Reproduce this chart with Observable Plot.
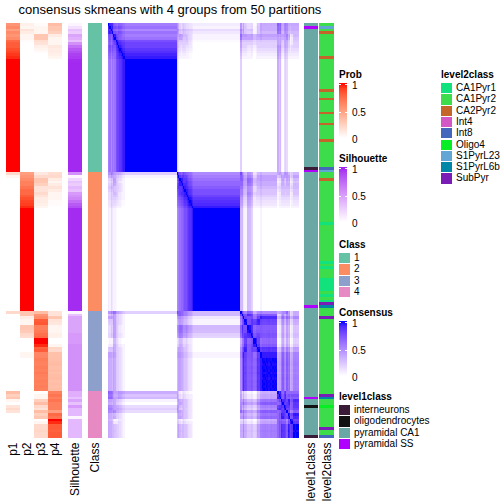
<!DOCTYPE html>
<html><head><meta charset="utf-8">
<script src="https://cdn.jsdelivr.net/npm/d3@7"></script>
<script src="https://cdn.jsdelivr.net/npm/@observablehq/plot@0.6"></script>
<style>
body{margin:0;background:#fff;}
#chart{position:relative;width:504px;height:504px;overflow:hidden;font-family:"Liberation Sans",Arial,sans-serif;color:#000;}
#chart svg{overflow:visible;}
.lt{position:absolute;font-size:10px;font-weight:bold;white-space:nowrap;line-height:12px;}
.ll{position:absolute;font-size:10px;white-space:nowrap;line-height:12px;}
</style></head><body><div id="chart"></div>
<script>
// ---------- data (one entry per sample, 150 samples, in plotted order) ----------
const probNames = ["p1","p2","p3","p4"];
const p1 = [
 .55,.60,.50,.60,.55,.60,.75,.80,.80,.85,
 .88,.92,.95,1,1,1,1,1,1,1,
 1,1,1,1,1,1,1,1,1,1,
 1,1,1,1,1,1,1,1,1,1,
 1,1,1,1,1,1,1,1,1,1,
 1,1,1,1,.20,.05,0,0,0,0,
 0,0,0,0,0,0,0,0,0,0,
 0,0,0,0,0,0,0,0,0,0,
 0,0,0,0,0,0,0,0,0,0,
 0,0,0,0,0,0,0,0,0,0,
 0,0,0,0,.20,0,0,0,0,0,
 0,0,0,0,0,0,0,0,0,0,
 0,0,0,0,0,0,0,0,0,0,
 0,0,0,.35,.25,.30,.05,0,.15,.20,
 .15,0,0,0,0,0,0,0,0,0];
const p2 = [
 .08,.05,.15,.10,.05,.05,.02,0,0,0,
 0,0,0,0,0,0,0,0,0,0,
 0,0,0,0,0,0,0,0,0,0,
 0,0,0,0,0,0,0,0,0,0,
 0,0,0,0,0,0,0,0,0,0,
 0,0,0,0,.50,.55,.60,.65,.65,.70,
 .75,.75,.80,.85,.88,.90,.95,1,1,1,
 1,1,1,1,1,1,1,1,1,1,
 1,1,1,1,1,1,1,1,1,1,
 1,1,1,1,1,1,1,1,1,1,
 1,1,1,1,.30,.30,.10,.05,.05,.30,
 .30,.28,.20,.18,0,0,0,0,0,.05,
 .05,0,0,0,0,0,0,0,0,0,
 0,0,0,0,0,0,0,0,0,0,
 0,0,0,0,0,0,0,0,0,0];
const p3 = [
 .02,.05,.05,.05,.30,.30,.18,.15,.08,.05,
 .02,0,0,0,0,0,0,0,0,0,
 0,0,0,0,0,0,0,0,0,0,
 0,0,0,0,0,0,0,0,0,0,
 0,0,0,0,0,0,0,0,0,0,
 0,0,0,0,.12,.20,.30,.30,.25,.15,
 .15,.20,.15,.10,.10,.08,.05,0,0,0,
 0,0,0,0,0,0,0,0,0,0,
 0,0,0,0,0,0,0,0,0,0,
 0,0,0,0,0,0,0,0,0,0,
 0,0,0,0,.35,.55,.60,.80,.82,.65,
 .65,.67,.72,.75,1,1,.95,.78,.80,.62,
 .62,.66,.65,.64,.66,.65,.67,.65,.64,.66,
 .65,.66,.65,0,.05,.05,.25,.35,.20,.15,
 .35,.25,.30,0,.05,.20,.20,.22,.20,.20];
const p4 = [
 .35,.30,.30,.25,.10,.05,.05,.05,.12,.10,
 .10,.08,.05,0,0,0,0,0,0,0,
 0,0,0,0,0,0,0,0,0,0,
 0,0,0,0,0,0,0,0,0,0,
 0,0,0,0,0,0,0,0,0,0,
 0,0,0,0,.18,.20,.10,.05,.10,.15,
 .10,.05,.05,.05,.02,.02,0,0,0,0,
 0,0,0,0,0,0,0,0,0,0,
 0,0,0,0,0,0,0,0,0,0,
 0,0,0,0,0,0,0,0,0,0,
 0,0,0,0,.15,.15,.30,.15,.13,.05,
 .05,.05,.08,.07,0,0,.05,.22,.20,.33,
 .33,.34,.35,.36,.34,.35,.33,.35,.36,.34,
 .35,.34,.35,.65,.70,.65,.70,.65,.65,.65,
 .50,.75,.70,1,.95,.80,.80,.78,.80,.80];
const silhouette = [
 .05,.15,.30,.25,.45,.40,.30,.55,.70,.80,
 .85,.90,.92,.97,.98,.98,.98,.98,.98,.98,
 .98,.98,.98,.98,.98,.98,.98,.98,.98,.98,
 .98,.98,.98,.98,.98,.98,.98,.98,.98,.98,
 .98,.98,.98,.98,.98,.98,.98,.98,.98,.98,
 .98,.98,.98,.98,.55,.05,.20,.30,.25,.35,
 .30,.50,.55,.60,.70,.80,.85,.97,.97,.97,
 .97,.97,.97,.97,.97,.97,.97,.97,.97,.97,
 .97,.97,.97,.97,.97,.97,.97,.97,.97,.97,
 .97,.97,.97,.97,.97,.97,.97,.97,.97,.97,
 .97,.97,.97,.97,.05,.30,.45,.45,.45,.45,
 .45,.45,.50,.50,.50,.50,.55,.55,.55,.55,
 .55,.55,.55,.55,.55,.55,.55,.55,.55,.55,
 .55,.55,.55,.40,.40,.30,.45,.30,.50,.35,
 .35,.35,.05,.35,.35,.35,.35,.35,.35,.35];
const classNames = ["1","2","3","4"];
const classSizes = [54, 50, 29, 17];
const classColors = ["#66C2A5","#FC8D62","#8DA0CB","#E78AC3"];

const level1Names = ["interneurons","oligodendrocytes","pyramidal CA1","pyramidal SS"];
const level1Colors = ["#3A1C38","#121212","#6AA8A6","#B000FF"];
const level1Default = "pyramidal CA1";
const level1Marks = [[1,"pyramidal SS"],[52,"interneurons"],[53,"pyramidal SS"],[102,"pyramidal SS"],
 [135,"pyramidal SS"],[138,"oligodendrocytes"],[149,"interneurons"]];

const level2Names = ["CA1Pyr1","CA1Pyr2","CA2Pyr2","Int4","Int8","Oligo4","S1PyrL23","S1PyrL6b","SubPyr"];
const level2Colors = ["#12E27C","#3DDC4A","#C4652A","#D357C4","#4466BB","#08EE24","#62A6D6","#0087A8","#7A1CB6"];
const level2Default = "CA1Pyr2";
const level2Marks = [[1,"S1PyrL23"],[3,"CA2Pyr2"],[12,"CA2Pyr2"],[24,"CA2Pyr2"],[27,"CA2Pyr2"],[32,"CA2Pyr2"],
 [36,"CA2Pyr2"],[42,"CA2Pyr2"],[52,"Int8"],[53,"S1PyrL23"],[56,"CA2Pyr2"],[72,"CA1Pyr1"],[86,"CA1Pyr1"],
 [88,"CA1Pyr1"],[92,"CA1Pyr1"],[93,"CA1Pyr1"],[94,"CA1Pyr1"],[95,"CA1Pyr1"],[96,"CA1Pyr1"],[98,"CA1Pyr1"],
 [100,"CA1Pyr1"],[101,"SubPyr"],[102,"S1PyrL6b"],[106,"SubPyr"],[134,"SubPyr"],[135,"S1PyrL6b"],
 [138,"Oligo4"],[146,"SubPyr"],[149,"Int8"]];

const titleText = "consensus skmeans with 4 groups from 50 partitions";

// ---------- derived tables ----------
const N = p1.length;
const idx = d3.range(N);
const probs = [p1, p2, p3, p4];
const classOf = classSizes.flatMap((n, k) => Array(n).fill(classNames[k]));
const level1 = idx.map(() => level1Default); level1Marks.forEach(([i, v]) => level1[i] = v);
const level2 = idx.map(() => level2Default); level2Marks.forEach(([i, v]) => level2[i] = v);
const probCells = [];
idx.forEach(i => probNames.forEach((k, c) => probCells.push({i, k, v: probs[c][i]})));
// consensus between two samples: overlap of their class-membership probabilities
const consCells = [];
for (const i of idx) for (const j of idx) {
  let v = 1;
  if (i !== j) { v = 0; for (const p of probs) v += Math.min(p[i], p[j]); }
  consCells.push({i, j, v: Math.min(1, v)});
}

// ---------- layout ----------
const chart = document.getElementById("chart");
const FONT = "'Liberation Sans', Arial, sans-serif";
const TOP = 23, H = 415, BOTTOM = 64;
function place(node, left, top) {
  node.style.position = "absolute"; node.style.left = left + "px"; node.style.top = top + "px";
  chart.appendChild(node); return node;
}
function div(cls, text, left, top, extra) {
  const d = document.createElement("div"); if (cls) d.className = cls;
  if (text != null) d.textContent = text; Object.assign(d.style, extra || {});
  return place(d, left, top);
}
const baseStyle = {fontSize: "12px", fontFamily: FONT, color: "black", background: "transparent", overflow: "visible"};
const yBand = {type: "band", domain: idx, padding: 0, axis: null};
const xAxisOpts = {padding: 0, tickSize: 0, tickRotate: -90, tickPadding: 4, label: null};

// probability columns
place(Plot.plot({
  width: 57, height: H + BOTTOM, marginTop: 0, marginLeft: 0, marginRight: 0, marginBottom: BOTTOM,
  style: baseStyle,
  x: {type: "band", domain: probNames, ...xAxisOpts},
  y: yBand,
  color: {type: "linear", domain: [0, 1], range: ["white", "red"], interpolate: "lab"},
  marks: [Plot.cell(probCells, {x: "k", y: "i", fill: "v", shapeRendering: "crispEdges"})]
}), 5, TOP);

function column(label, values, color, left, width) {
  place(Plot.plot({
    width, height: H + BOTTOM, marginTop: 0, marginLeft: 0, marginRight: 0, marginBottom: BOTTOM,
    style: baseStyle,
    x: {type: "band", domain: [label], ...xAxisOpts},
    y: yBand,
    color,
    marks: [Plot.cell(idx, {x: () => label, y: d => d, fill: d => values[d], shapeRendering: "crispEdges"})]
  }), left, TOP);
}
column("Silhouette", silhouette, {type: "linear", domain: [0, 1], range: ["white", "#A020F0"], interpolate: "lab"}, 68, 14);
column("Class", classOf, {type: "ordinal", domain: classNames, range: classColors}, 88, 14);
column("level1class", level1, {type: "ordinal", domain: level1Names, range: level1Colors}, 304, 14);
column("level2class", level2, {type: "ordinal", domain: level2Names, range: level2Colors}, 319, 15);

// consensus matrix
place(Plot.plot({
  width: 191, height: H, margin: 0, style: baseStyle,
  x: {type: "band", domain: idx, padding: 0, axis: null},
  y: yBand,
  color: {type: "linear", domain: [0, 1], range: ["white", "blue"], interpolate: "lab"},
  marks: [Plot.cell(consCells, {x: "j", y: "i", fill: "v", shapeRendering: "crispEdges"})]
}), 108, TOP);

// title
div(null, titleText, 0, 3, {width: "340px", textAlign: "center", fontSize: "13px", lineHeight: "14px"});

// ---------- legends ----------
function gradientLegend(title, hi, left, barTop) {
  div("lt", title, left, barTop - 14);
  const interp = d3.interpolateLab("white", hi);
  const stops = d3.range(0, 11).map(s => `${interp(1 - s / 10)} ${s * 10}%`).join(",");
  div(null, null, left, barTop, {width: "8px", height: "55px", background: `linear-gradient(to bottom, ${stops})`});
  [1, 0.5].forEach(v => {
    const y = barTop + (1 - v) * 55 + 1;
    div(null, null, left, y, {width: "2px", height: "1px", background: "white"});
    div(null, null, left + 6, y, {width: "2px", height: "1px", background: "white"});
  });
  [[1, "1"], [0.5, "0.5"], [0, "0"]].forEach(([v, t]) => div("ll", t, left + 13, barTop - 3 + (1 - v) * 54 + 3 - 6 + 3));
}
function swatchLegend(title, names, colors, left, top) {
  div("lt", title, left, top - 14);
  names.forEach((n, k) => {
    div(null, null, left, top + k * 11.3, {width: "11px", height: "10.3px", background: colors[k]});
    div("ll", n, left + 15, top + k * 11.3 - 1);
  });
}
gradientLegend("Prob", "red", 339, 83);
gradientLegend("Silhouette", "#A020F0", 339, 167);
swatchLegend("Class", classNames, classColors, 339, 253);
gradientLegend("Consensus", "blue", 339, 321);
swatchLegend("level1class", level1Names, level1Colors, 339, 405);
swatchLegend("level2class", level2Names, level2Colors, 441, 83);
</script></body></html>
